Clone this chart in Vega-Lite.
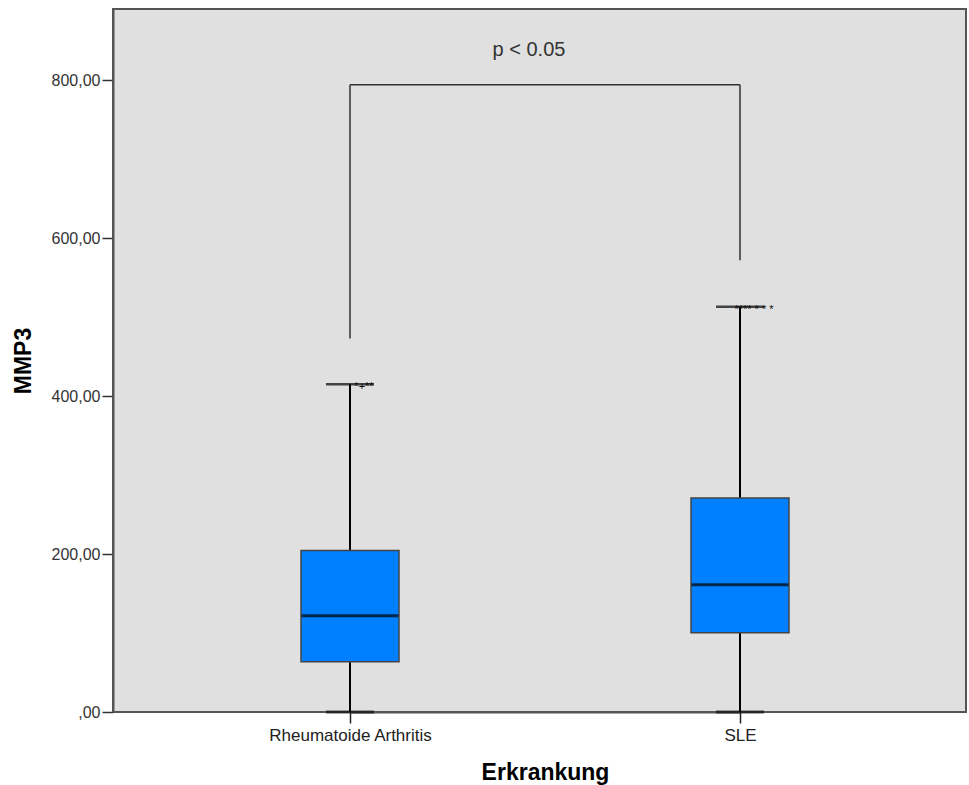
{
  "$schema": "https://vega.github.io/schema/vega-lite/v6.json",
  "width": 853,
  "height": 703,
  "autosize": "none",
  "padding": {"left": 113, "top": 9, "right": 3, "bottom": 73},
  "background": "white",
  "config": {
    "view": {"fill": "#E0E0E0", "stroke": "#555555", "strokeWidth": 2},
    "font": "Liberation Sans"
  },
  "datasets": {
    "boxes": [
      {"Erkrankung": "Rheumatoide Arthritis", "min": 0, "q1": 63.7, "median": 122, "q3": 204.5, "max": 415, "leg": 473, "stars": "*+**"},
      {"Erkrankung": "SLE", "min": 0, "q1": 100.4, "median": 161, "q3": 271, "max": 513, "leg": 572, "stars": "****   * * *"}
    ],
    "bracket": [
      {"from": "Rheumatoide Arthritis", "to": "SLE", "top": 794, "label": "p < 0.05", "labelY": 838}
    ]
  },
  "encoding": {
    "x": {
      "field": "Erkrankung",
      "type": "nominal",
      "scale": {"type": "point", "range": [237, 627], "padding": 0},
      "sort": ["Rheumatoide Arthritis", "SLE"],
      "axis": {
        "title": "Erkrankung",
        "labelAngle": 0,
        "labelFont": "Liberation Sans",
        "labelFontSize": 17,
        "labelColor": "#222222",
        "labelPadding": 4,
        "tickSize": 11,
        "tickColor": "#222222",
        "tickWidth": 1.5,
        "domainColor": "#555555",
        "domainWidth": 2,
        "titleFont": "Liberation Sans",
        "titleFontSize": 23,
        "titleFontWeight": "bold",
        "titleColor": "#000000",
        "titlePadding": 18
      }
    }
  },
  "layer": [
    {
      "data": {"name": "boxes"},
      "mark": {"type": "rule", "color": "#000000", "strokeWidth": 2},
      "encoding": {
        "y": {
          "field": "min",
          "type": "quantitative",
          "scale": {"domain": [0, 890], "nice": false, "zero": true},
          "axis": {
            "title": "MMP3",
            "values": [0, 200, 400, 600, 800],
            "labelExpr": "datum.value === 0 ? ',00' : replace(format(datum.value, '.2f'), '.', ',')",
            "grid": false,
            "labelFont": "Liberation Sans",
            "labelFontSize": 16,
            "labelColor": "#333333",
            "labelPadding": 2,
            "tickSize": 11,
            "tickColor": "#333333",
            "tickWidth": 1.5,
            "domainColor": "#555555",
            "domainWidth": 2,
            "titleFont": "Liberation Sans",
            "titleFontSize": 23,
            "titleFontWeight": "bold",
            "titleColor": "#000000",
            "titlePadding": 16
          }
        },
        "y2": {"field": "max"}
      }
    },
    {
      "data": {"name": "boxes"},
      "mark": {"type": "tick", "orient": "horizontal", "color": "#000000", "size": 48, "thickness": 2.5},
      "encoding": {"y": {"field": "max", "type": "quantitative"}}
    },
    {
      "data": {"name": "boxes"},
      "mark": {"type": "tick", "orient": "horizontal", "color": "#111111", "size": 48, "thickness": 3},
      "encoding": {"y": {"field": "min", "type": "quantitative"}}
    },
    {
      "data": {"name": "boxes"},
      "mark": {"type": "bar", "size": 98, "fill": "#0080FF", "stroke": "#444444", "strokeWidth": 1.5},
      "encoding": {
        "y": {"field": "q3", "type": "quantitative"},
        "y2": {"field": "q1"}
      }
    },
    {
      "data": {"name": "boxes"},
      "mark": {"type": "tick", "orient": "horizontal", "color": "#000000", "size": 97, "thickness": 3},
      "encoding": {"y": {"field": "median", "type": "quantitative"}}
    },
    {
      "data": {"name": "boxes"},
      "mark": {"type": "text", "fontSize": 11, "color": "#111111", "dx": 14, "dy": 3, "baseline": "middle"},
      "encoding": {
        "y": {"field": "max", "type": "quantitative"},
        "text": {"field": "stars"}
      }
    },
    {
      "data": {"name": "boxes"},
      "mark": {"type": "rule", "color": "#333333", "strokeWidth": 1.5},
      "encoding": {
        "y": {"field": "leg", "type": "quantitative"},
        "y2": {"datum": 794}
      }
    },
    {
      "data": {"name": "bracket"},
      "mark": {"type": "rule", "color": "#333333", "strokeWidth": 1.5},
      "encoding": {
        "x": {"field": "from", "type": "nominal"},
        "x2": {"field": "to"},
        "y": {"field": "top", "type": "quantitative"}
      }
    },
    {
      "data": {"name": "bracket"},
      "mark": {"type": "text", "fontSize": 20, "color": "#333333", "dx": 179, "baseline": "middle", "font": "Liberation Sans"},
      "encoding": {
        "x": {"field": "from", "type": "nominal"},
        "y": {"field": "labelY", "type": "quantitative"},
        "text": {"field": "label"}
      }
    }
  ]
}
